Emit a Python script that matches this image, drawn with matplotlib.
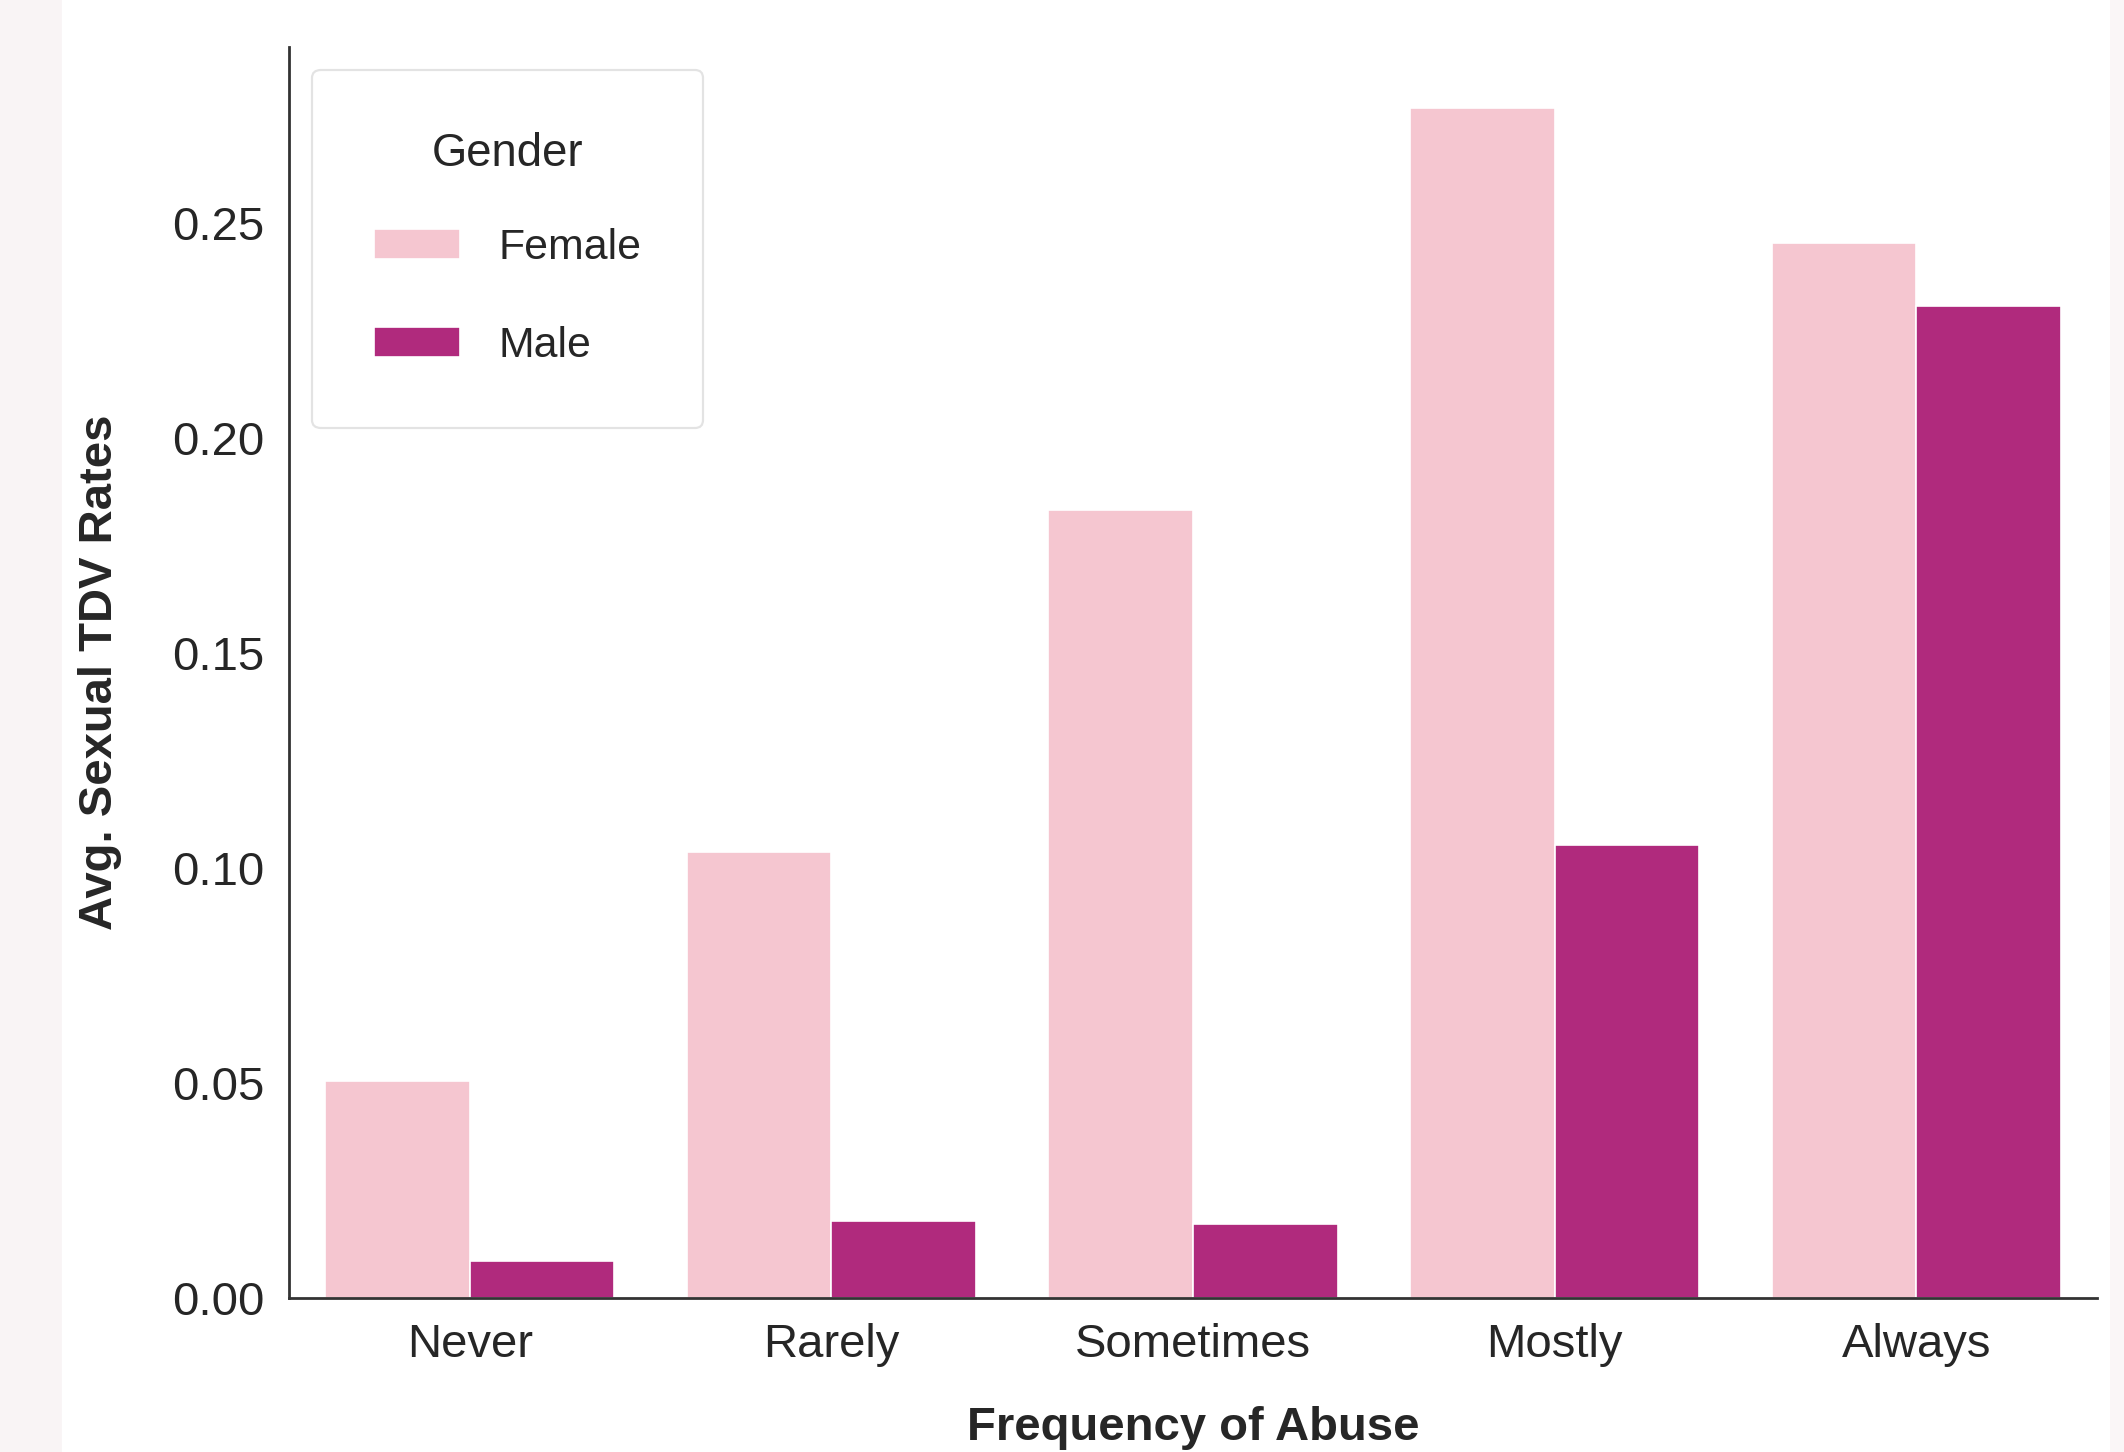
import numpy as np
import matplotlib
matplotlib.use("Agg")
import matplotlib.pyplot as plt
from matplotlib.patches import Rectangle

categories = ["Never", "Rarely", "Sometimes", "Mostly", "Always"]
genders = ["Female", "Male"]
female = [0.0504, 0.1037, 0.1832, 0.2768, 0.2453]
male = [0.0085, 0.0180, 0.0173, 0.1053, 0.2308]
colors = ["#f5c6d0", "#b02a7d"]

plt.rcParams["font.family"] = ["Liberation Sans", "DejaVu Sans"]
plt.rcParams["text.color"] = "#262626"
plt.rcParams["axes.labelcolor"] = "#262626"

fig = plt.figure(figsize=(10.62, 7.26), dpi=200)
fig.patch.set_facecolor("white")
# light page strips at the screenshot edges
fig.add_artist(Rectangle((0, 0), 60 / 2124, 1, transform=fig.transFigure,
                         color="#f9f4f5", zorder=0))
fig.add_artist(Rectangle((2111 / 2124, 0), 13 / 2124, 1, transform=fig.transFigure,
                         color="#faf6f7", zorder=0))

ax = fig.add_axes([289 / 2124, 1 - 1298 / 1452, (2097 - 289) / 2124, (1298 - 47) / 1452])
x = np.arange(len(categories))
w = 0.4
ax.bar(x - w / 2, female, w, color=colors[0], edgecolor="white", linewidth=0.6, label=genders[0])
ax.bar(x + w / 2, male, w, color=colors[1], edgecolor="white", linewidth=0.6, label=genders[1])

ax.set_xlim(-0.5, 4.5)
ax.set_ylim(0, 0.291)
ax.set_xticks(x)
ax.set_xticklabels(categories)
ax.set_yticks([0, 0.05, 0.10, 0.15, 0.20, 0.25])
ax.set_yticklabels(["0.00", "0.05", "0.10", "0.15", "0.20", "0.25"])
ax.tick_params(axis="both", length=0, labelsize=17, labelcolor="#262626")
ax.tick_params(axis="x", pad=9)
ax.tick_params(axis="y", pad=9)

for s in ["top", "right"]:
    ax.spines[s].set_visible(False)
for s in ["left", "bottom"]:
    ax.spines[s].set_color("#333333")
    ax.spines[s].set_linewidth(1.0)

ax.set_ylabel("Avg. Sexual TDV Rates", fontsize=17, fontweight="bold", labelpad=18)
ax.set_xlabel("Frequency of Abuse", fontsize=17, fontweight="bold", labelpad=14)

leg = ax.legend(title="Gender", loc="upper left", bbox_to_anchor=(0.0127, 0.982),
                borderaxespad=0, fontsize=15.4, title_fontsize=16.4,
                labelspacing=1.35, borderpad=1.45, handletextpad=0.9,
                fancybox=True, frameon=True)
leg.get_frame().set_edgecolor("#dddddd")
leg.get_frame().set_linewidth(0.8)
leg._legend_box.sep = 19

fig.savefig("out.png", dpi=200)
